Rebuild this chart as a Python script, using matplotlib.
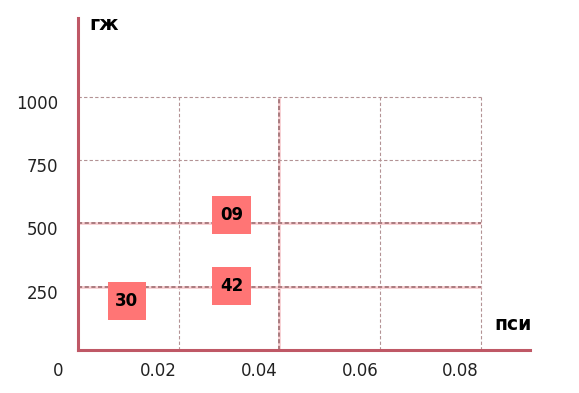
import matplotlib.pyplot as plt
import matplotlib.transforms as mtransforms

# data
point_x = [0.0097, 0.0305, 0.0305]
point_y = [195, 252, 533]
point_labels = ["30", "42", "09"]
x_ticks = [0.02, 0.04, 0.06, 0.08]
x_tick_labels = ["0.02", "0.04", "0.06", "0.08"]
y_ticks = [250, 500, 750, 1000]
y_tick_labels = ["250", "500", "750", "1000"]
strong_x = [0.04]
strong_y = [250, 500]

fig = plt.figure(figsize=(5.79, 3.93), dpi=100)
ax = fig.add_axes([78 / 579, 43 / 393, 452 / 579, 332 / 393])
ax.set_xlim(0, 0.0898)
ax.set_ylim(0, 1312)

axis_col = "#bf5866"
grid_col = "#b39294"
strong_under = "#f8cdd0"
strong_col = "#9c6d71"

# grid, only up to the last tick
for x in x_ticks:
    if x in strong_x:
        ax.vlines(x, 0, 1000, colors=strong_under, linewidth=2.0, zorder=1)
        ax.vlines(x, 0, 1000, colors=strong_col, linestyles=(0, (2.5, 1.5)), linewidth=1.2, zorder=1)
    else:
        ax.vlines(x, 0, 1000, colors=grid_col, linestyles=(0, (3, 2)), linewidth=0.8, zorder=1)
for y in y_ticks:
    if y in strong_y:
        ax.hlines(y, 0, 0.08, colors=strong_under, linewidth=2.0, zorder=1)
        ax.hlines(y, 0, 0.08, colors=strong_col, linestyles=(0, (2.5, 1.5)), linewidth=1.2, zorder=1)
    else:
        ax.hlines(y, 0, 0.08, colors=grid_col, linestyles=(0, (3, 2)), linewidth=0.8, zorder=1)

for s in ["top", "right"]:
    ax.spines[s].set_visible(False)
for s in ["left", "bottom"]:
    ax.spines[s].set_color(axis_col)
    ax.spines[s].set_linewidth(2.2)

ax.set_xticks([0] + x_ticks)
ax.set_xticklabels(["0"] + x_tick_labels, fontsize=12, color="#222222")
ax.set_yticks(y_ticks)
ax.set_yticklabels(y_tick_labels, fontsize=12, color="#222222")
ax.tick_params(length=0)
ax.tick_params(axis="x", pad=9)
ax.tick_params(axis="y", pad=14)

dx = mtransforms.ScaledTranslation(-20 / 100, 0, fig.dpi_scale_trans)
for lab in ax.get_xticklabels():
    lab.set_transform(lab.get_transform() + dx)
dy = mtransforms.ScaledTranslation(0, -5 / 100, fig.dpi_scale_trans)
for lab in ax.get_yticklabels():
    lab.set_transform(lab.get_transform() + dy)

# labelled points
ax.scatter(point_x, point_y, marker="s", s=38 ** 2 * 0.52, color="#ff7575",
           edgecolors="none", zorder=3)
for x, y, t in zip(point_x, point_y, point_labels):
    ax.text(x, y, t, ha="center", va="center", fontsize=12, fontweight="bold", zorder=4)

fig.text(89 / 579, 1 - 25 / 393, "гж", fontsize=14, fontweight="bold", va="center")
fig.text(532 / 579, 1 - 324 / 393, "пси", fontsize=13.5, fontweight="bold",
         va="center", ha="right")

fig.savefig("out.png", dpi=100)
